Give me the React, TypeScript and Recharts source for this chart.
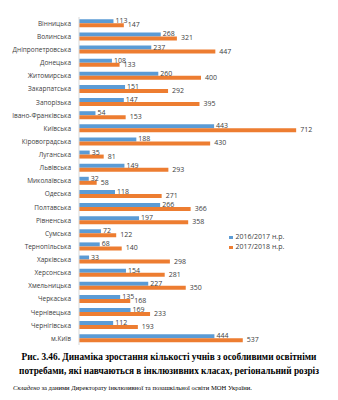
import { BarChart, Bar, XAxis, YAxis, LabelList } from 'recharts';

const regions = [
  'Вінницька', 'Волинська', 'Дніпропетровська', 'Донецька', 'Житомирська',
  'Закарпатська', 'Запорізька', 'Івано-Франківська', 'Київська', 'Кіровоградська',
  'Луганська', 'Львівська', 'Миколаївська', 'Одеська', 'Полтавська',
  'Рівненська', 'Сумська', 'Тернопільська', 'Харківська', 'Херсонська',
  'Хмельницька', 'Черкаська', 'Чернівецька', 'Чернігівська', 'м.Київ',
];
const y2016 = [113, 268, 237, 108, 260, 151, 147, 54, 443, 188, 35, 149, 32, 118, 266, 197, 72, 68, 33, 154, 227, 135, 169, 112, 444];
const y2018 = [147, 321, 447, 133, 400, 292, 395, 153, 712, 430, 81, 293, 58, 271, 366, 358, 122, 140, 298, 281, 350, 168, 233, 193, 537];

const data = regions.map((name, i) => ({ name, a: y2016[i], b: y2018[i] }));

const BLUE = '#5B9BD5';
const ORANGE = '#ED7D31';
const font = '"Open Sans", sans-serif';

const App = () => {
  return (
    <div style={{ position: 'fixed', left: 0, top: 0, width: 338, height: 400, background: '#fff' }}>
      <BarChart
        width={338}
        height={350}
        data={data}
        layout="vertical"
        margin={{ top: 17, right: 15, bottom: 5, left: 0 }}
        barCategoryGap="18%"
        barGap={0}
      >
        <XAxis type="number" domain={[0, 800]} hide />
        <YAxis
          type="category"
          dataKey="name"
          width={79}
          tickLine={false}
          axisLine={{ stroke: '#d9d9d9' }}
          interval={0}
          tick={{ fontSize: 6.5, fill: '#404040', fontFamily: font }}
        />
        <Bar dataKey="a" fill={BLUE} isAnimationActive={false}>
          <LabelList dataKey="a" position="right" offset={2} dy={-0.5} style={{ fontSize: 7, fill: '#404040', fontFamily: font }} />
        </Bar>
        <Bar dataKey="b" fill={ORANGE} isAnimationActive={false}>
          <LabelList dataKey="b" position="right" offset={4} dy={-0.5} style={{ fontSize: 7, fill: '#404040', fontFamily: font }} />
        </Bar>
      </BarChart>
      <div style={{ position: 'absolute', left: 229, top: 232, fontFamily: font, fontSize: 7, color: '#404040', lineHeight: '10px' }}>
        <div><span style={{ display: 'inline-block', width: 3.5, height: 3.5, background: BLUE, marginRight: 3 }} />2016/2017 н.р.</div>
        <div><span style={{ display: 'inline-block', width: 3.5, height: 3.5, background: ORANGE, marginRight: 3 }} />2017/2018 н.р.</div>
      </div>
      <div style={{ position: 'absolute', left: 0, top: 350, width: 338, textAlign: 'center', fontFamily: '"Liberation Serif", serif', fontWeight: 'bold', fontSize: 9.3, lineHeight: '14px', color: '#000' }}>
        Рис. 3.46. Динаміка зростання кількості учнів з особливими освітніми<br />
        потребами, які навчаються в інклюзивних класах, регіональний розріз
      </div>
      <div style={{ position: 'absolute', left: 13, top: 384, fontFamily: '"Liberation Serif", serif', fontSize: 6.6, color: '#000', whiteSpace: 'nowrap' }}>
        <i>Складено</i> за даними Директорату інклюзивної та позашкільної освіти МОН України.
      </div>
    </div>
  );
};

export default App;
